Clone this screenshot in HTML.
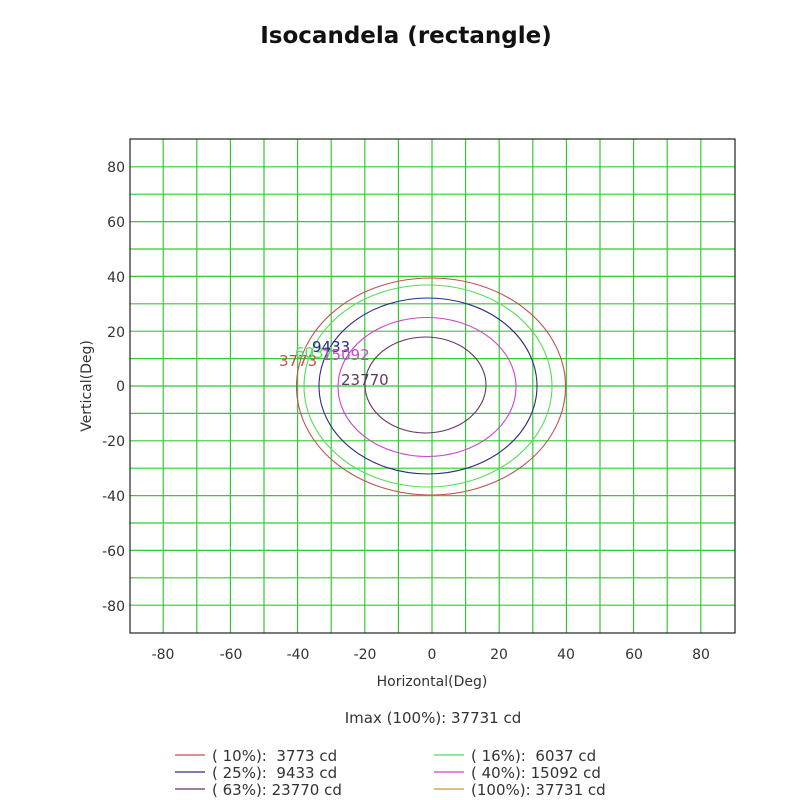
<!DOCTYPE html>
<html><head><meta charset="utf-8"><style>
html,body{margin:0;padding:0;background:#fff;}
svg{display:block;font-family:"DejaVu Sans","Liberation Sans",sans-serif;}
.pre{white-space:pre;}
</style></head><body>
<svg width="800" height="800" viewBox="0 0 800 800">
<text x="406" y="43" text-anchor="middle" font-size="23" font-weight="bold" fill="#111">Isocandela (rectangle)</text>
<g stroke="#33cc33" stroke-width="1.2">
<line x1="163.2" y1="139" x2="163.2" y2="633"/><line x1="196.8" y1="139" x2="196.8" y2="633"/><line x1="230.4" y1="139" x2="230.4" y2="633"/><line x1="264" y1="139" x2="264" y2="633"/><line x1="297.6" y1="139" x2="297.6" y2="633"/><line x1="331.2" y1="139" x2="331.2" y2="633"/><line x1="364.8" y1="139" x2="364.8" y2="633"/><line x1="398.4" y1="139" x2="398.4" y2="633"/><line x1="432" y1="139" x2="432" y2="633"/><line x1="465.6" y1="139" x2="465.6" y2="633"/><line x1="499.2" y1="139" x2="499.2" y2="633"/><line x1="532.8" y1="139" x2="532.8" y2="633"/><line x1="566.4" y1="139" x2="566.4" y2="633"/><line x1="600" y1="139" x2="600" y2="633"/><line x1="633.6" y1="139" x2="633.6" y2="633"/><line x1="667.2" y1="139" x2="667.2" y2="633"/><line x1="700.8" y1="139" x2="700.8" y2="633"/>
<line y1="166.8" x1="130" y2="166.8" x2="735"/><line y1="194.2" x1="130" y2="194.2" x2="735"/><line y1="221.6" x1="130" y2="221.6" x2="735"/><line y1="249" x1="130" y2="249" x2="735"/><line y1="276.4" x1="130" y2="276.4" x2="735"/><line y1="303.8" x1="130" y2="303.8" x2="735"/><line y1="331.2" x1="130" y2="331.2" x2="735"/><line y1="358.6" x1="130" y2="358.6" x2="735"/><line y1="386" x1="130" y2="386" x2="735"/><line y1="413.4" x1="130" y2="413.4" x2="735"/><line y1="440.8" x1="130" y2="440.8" x2="735"/><line y1="468.2" x1="130" y2="468.2" x2="735"/><line y1="495.6" x1="130" y2="495.6" x2="735"/><line y1="523" x1="130" y2="523" x2="735"/><line y1="550.4" x1="130" y2="550.4" x2="735"/><line y1="577.8" x1="130" y2="577.8" x2="735"/><line y1="605.2" x1="130" y2="605.2" x2="735"/>
</g>
<rect x="130" y="139" width="605" height="494" fill="none" stroke="#222" stroke-width="1.2"/>
<g fill="none" stroke-width="1.1">
<ellipse cx="431" cy="386.5" rx="134.5" ry="108.5" stroke="#c0504d"/>
<ellipse cx="428" cy="386" rx="124" ry="101" stroke="#55dd55"/>
<ellipse cx="428" cy="386" rx="109" ry="88" stroke="#2a2a88"/>
<ellipse cx="427" cy="387" rx="89" ry="69.5" stroke="#cc44cc"/>
<ellipse cx="425.5" cy="385" rx="60.5" ry="48" stroke="#663366"/>
</g>
<g font-size="15">
<text x="279" y="366" fill="#c0504d">3773</text>
<text x="295" y="358" fill="#55dd55">6037</text>
<text x="312" y="352" fill="#2a2a88">9433</text>
<text x="322" y="360" fill="#cc44cc">15092</text>
<text x="341" y="385" fill="#663366">23770</text>
</g>
<g font-size="14" fill="#333" text-anchor="end">
<text x="125" y="172">80</text><text x="125" y="227">60</text><text x="125" y="282">40</text><text x="125" y="337">20</text><text x="125" y="391">0</text><text x="125" y="446">-20</text><text x="125" y="501">-40</text><text x="125" y="556">-60</text><text x="125" y="611">-80</text>
</g>
<g font-size="14" fill="#333" text-anchor="middle">
<text x="163" y="659">-80</text><text x="231" y="659">-60</text><text x="298" y="659">-40</text><text x="365" y="659">-20</text><text x="432" y="659">0</text><text x="499" y="659">20</text><text x="566" y="659">40</text><text x="634" y="659">60</text><text x="701" y="659">80</text>
</g>
<text x="432" y="686" text-anchor="middle" font-size="14" fill="#333">Horizontal(Deg)</text>
<text transform="translate(91,386) rotate(-90)" text-anchor="middle" font-size="14" fill="#333">Vertical(Deg)</text>
<text x="433" y="723" text-anchor="middle" font-size="15" fill="#333">Imax (100%): 37731 cd</text>
<g stroke-width="1.2">
<line x1="175" y1="755" x2="205" y2="755" stroke="#c0504d"/>
<line x1="175" y1="772" x2="205" y2="772" stroke="#2a2a88"/>
<line x1="175" y1="789" x2="205" y2="789" stroke="#663366"/>
<line x1="434" y1="755" x2="464" y2="755" stroke="#55dd55"/>
<line x1="434" y1="772" x2="464" y2="772" stroke="#cc44cc"/>
<line x1="434" y1="789" x2="464" y2="789" stroke="#cc9933"/>
</g>
<g font-size="15" fill="#333" class="pre">
<text class="pre" x="212" y="761">( 10%):  3773 cd</text>
<text class="pre" x="212" y="778">( 25%):  9433 cd</text>
<text class="pre" x="212" y="795">( 63%): 23770 cd</text>
<text class="pre" x="471" y="761">( 16%):  6037 cd</text>
<text class="pre" x="471" y="778">( 40%): 15092 cd</text>
<text class="pre" x="471" y="795">(100%): 37731 cd</text>
</g>
</svg>
</body></html>
